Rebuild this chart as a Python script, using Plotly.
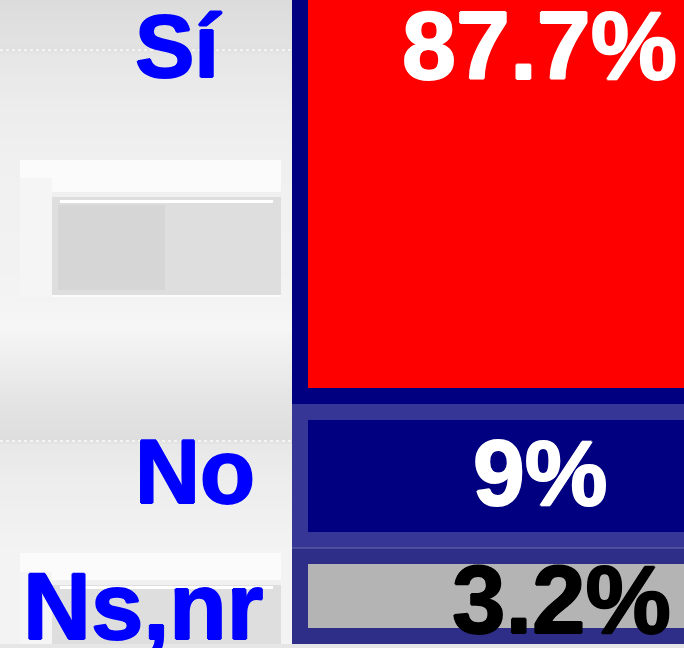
import plotly.graph_objects as go

# ---- data ----
categories = ["Sí", "No", "Ns,nr"]
values = [87.7, 9.0, 3.2]
value_labels = ["87.7%", "9%", "3.2%"]

# ---- styling / geometry (pixel units of the 684x648 canvas) ----
W, H = 684, 648
bar_colors = ["#ff0000", "#000080", "#b4b4b4"]
value_colors = ["#ffffff", "#ffffff", "#000000"]
row_center = [194, 476, 596]
row_thick = [388, 112, 64]
cat_right = [223, 256, 264]
cat_mid = [46, 472, 606]
val_center = [539, 540, 561]
val_mid = [45, 473, 599]
font_sizes_cat = [89, 90, 94]
font_sizes_val = [97, 93, 96]
BAR_START_PX = 308
PANEL_X = 292

# x scale so that value 0 sits at BAR_START_PX and bars run off the right edge
x_hi = 3.0
frac = BAR_START_PX / W
x_lo = -frac * x_hi / (1 - frac)

fig = go.Figure()
fig.add_trace(go.Bar(
    y=row_center, x=values, base=0, width=row_thick, orientation="h",
    marker=dict(color=bar_colors, line=dict(width=0)),
    hoverinfo="skip", showlegend=False,
))

shapes = []
def rect(x0, y0, x1, y1, fill, layer="below", opacity=1):
    shapes.append(dict(type="rect", xref="paper", yref="y", x0=x0 / W, x1=x1 / W,
                       y0=y0, y1=y1, fillcolor=fill, opacity=opacity,
                       line=dict(width=0), layer=layer))

def gray(v):
    v = int(round(v))
    return f"rgb({v},{v},{v})"

# left background: soft vertical gradient (decorative styling stops)
bg_stops = [(0, 220), (40, 226), (48, 224), (53, 230), (100, 236), (160, 240),
            (297, 243), (325, 246), (360, 238), (400, 228), (438, 222), (444, 232),
            (480, 237), (552, 243), (648, 243)]
step = 3
for y in range(0, H, step):
    for (ya, ga), (yb, gb) in zip(bg_stops[:-1], bg_stops[1:]):
        if ya <= y < yb:
            g = ga + (gb - ga) * (y - ya) / (yb - ya)
            break
    rect(0, y, PANEL_X, y + step, gray(g))

for yl in (50, 441):
    shapes.append(dict(type="line", xref="paper", yref="y", x0=0, x1=PANEL_X / W, y0=yl, y1=yl,
                       line=dict(color="#f4f4f4", width=2, dash="dot"), layer="below"))

# blurred boxes
rect(20, 160, 281, 297, "#fbfbfb")
rect(20, 178, 52, 297, "#f5f5f5")
rect(52, 192, 281, 197, "#f0f0f0")
rect(52, 197, 281, 295, "#dedede")
rect(58, 205, 165, 290, "#d6d6d6")
rect(60, 200, 273, 203, "#ffffff")
rect(20, 553, 281, 648, "#fbfbfb")
rect(20, 572, 52, 648, "#f5f5f5")
rect(52, 580, 281, 585, "#f0f0f0")
rect(52, 585, 281, 648, "#dedede")
rect(60, 586, 273, 589, "#ffffff")

# right panel bands
rect(PANEL_X, 0, W, 404, "#000080")
rect(PANEL_X, 404, W, 548, "#363696")
rect(PANEL_X, 548, W, 644, "#2e2e88")
shapes.append(dict(type="line", xref="paper", yref="y", x0=PANEL_X / W, x1=1, y0=548, y1=548,
                   line=dict(color="#6a6ab0", width=1), layer="below"))
rect(0, 644, W, 648, "#e6e6e6")

def heavy(c):
    return f"1px 0 0 {c}, -1px 0 0 {c}, 0 1px 0 {c}, 0 -1px 0 {c}"

annotations = []
for i, cat in enumerate(categories):
    annotations.append(dict(
        text=cat, xref="paper", yref="y", x=cat_right[i] / W, y=cat_mid[i],
        xanchor="right", yanchor="middle", showarrow=False, borderpad=0,
        font=dict(family="Liberation Sans", size=font_sizes_cat[i], color="#0000ff",
                  weight=700, shadow=heavy("#0000ff")),
    ))
    annotations.append(dict(
        text=value_labels[i], xref="paper", yref="y", x=val_center[i] / W, y=val_mid[i],
        xanchor="center", yanchor="middle", showarrow=False, borderpad=0,
        font=dict(family="Liberation Sans", size=font_sizes_val[i], color=value_colors[i],
                  weight=700, shadow=heavy(value_colors[i])),
    ))

fig.update_layout(
    width=W, height=H, margin=dict(l=0, r=0, t=0, b=0),
    paper_bgcolor="#e9e9e9", plot_bgcolor="rgba(0,0,0,0)",
    xaxis=dict(range=[x_lo, x_hi], visible=False, fixedrange=True),
    yaxis=dict(range=[H, 0], visible=False, fixedrange=True),
    shapes=shapes, annotations=annotations, bargap=0, showlegend=False,
)

fig.write_html("out.html", config={"displayModeBar": False},
               post_script="document.body.style.margin='0';document.body.style.background='#e9e9e9';")
